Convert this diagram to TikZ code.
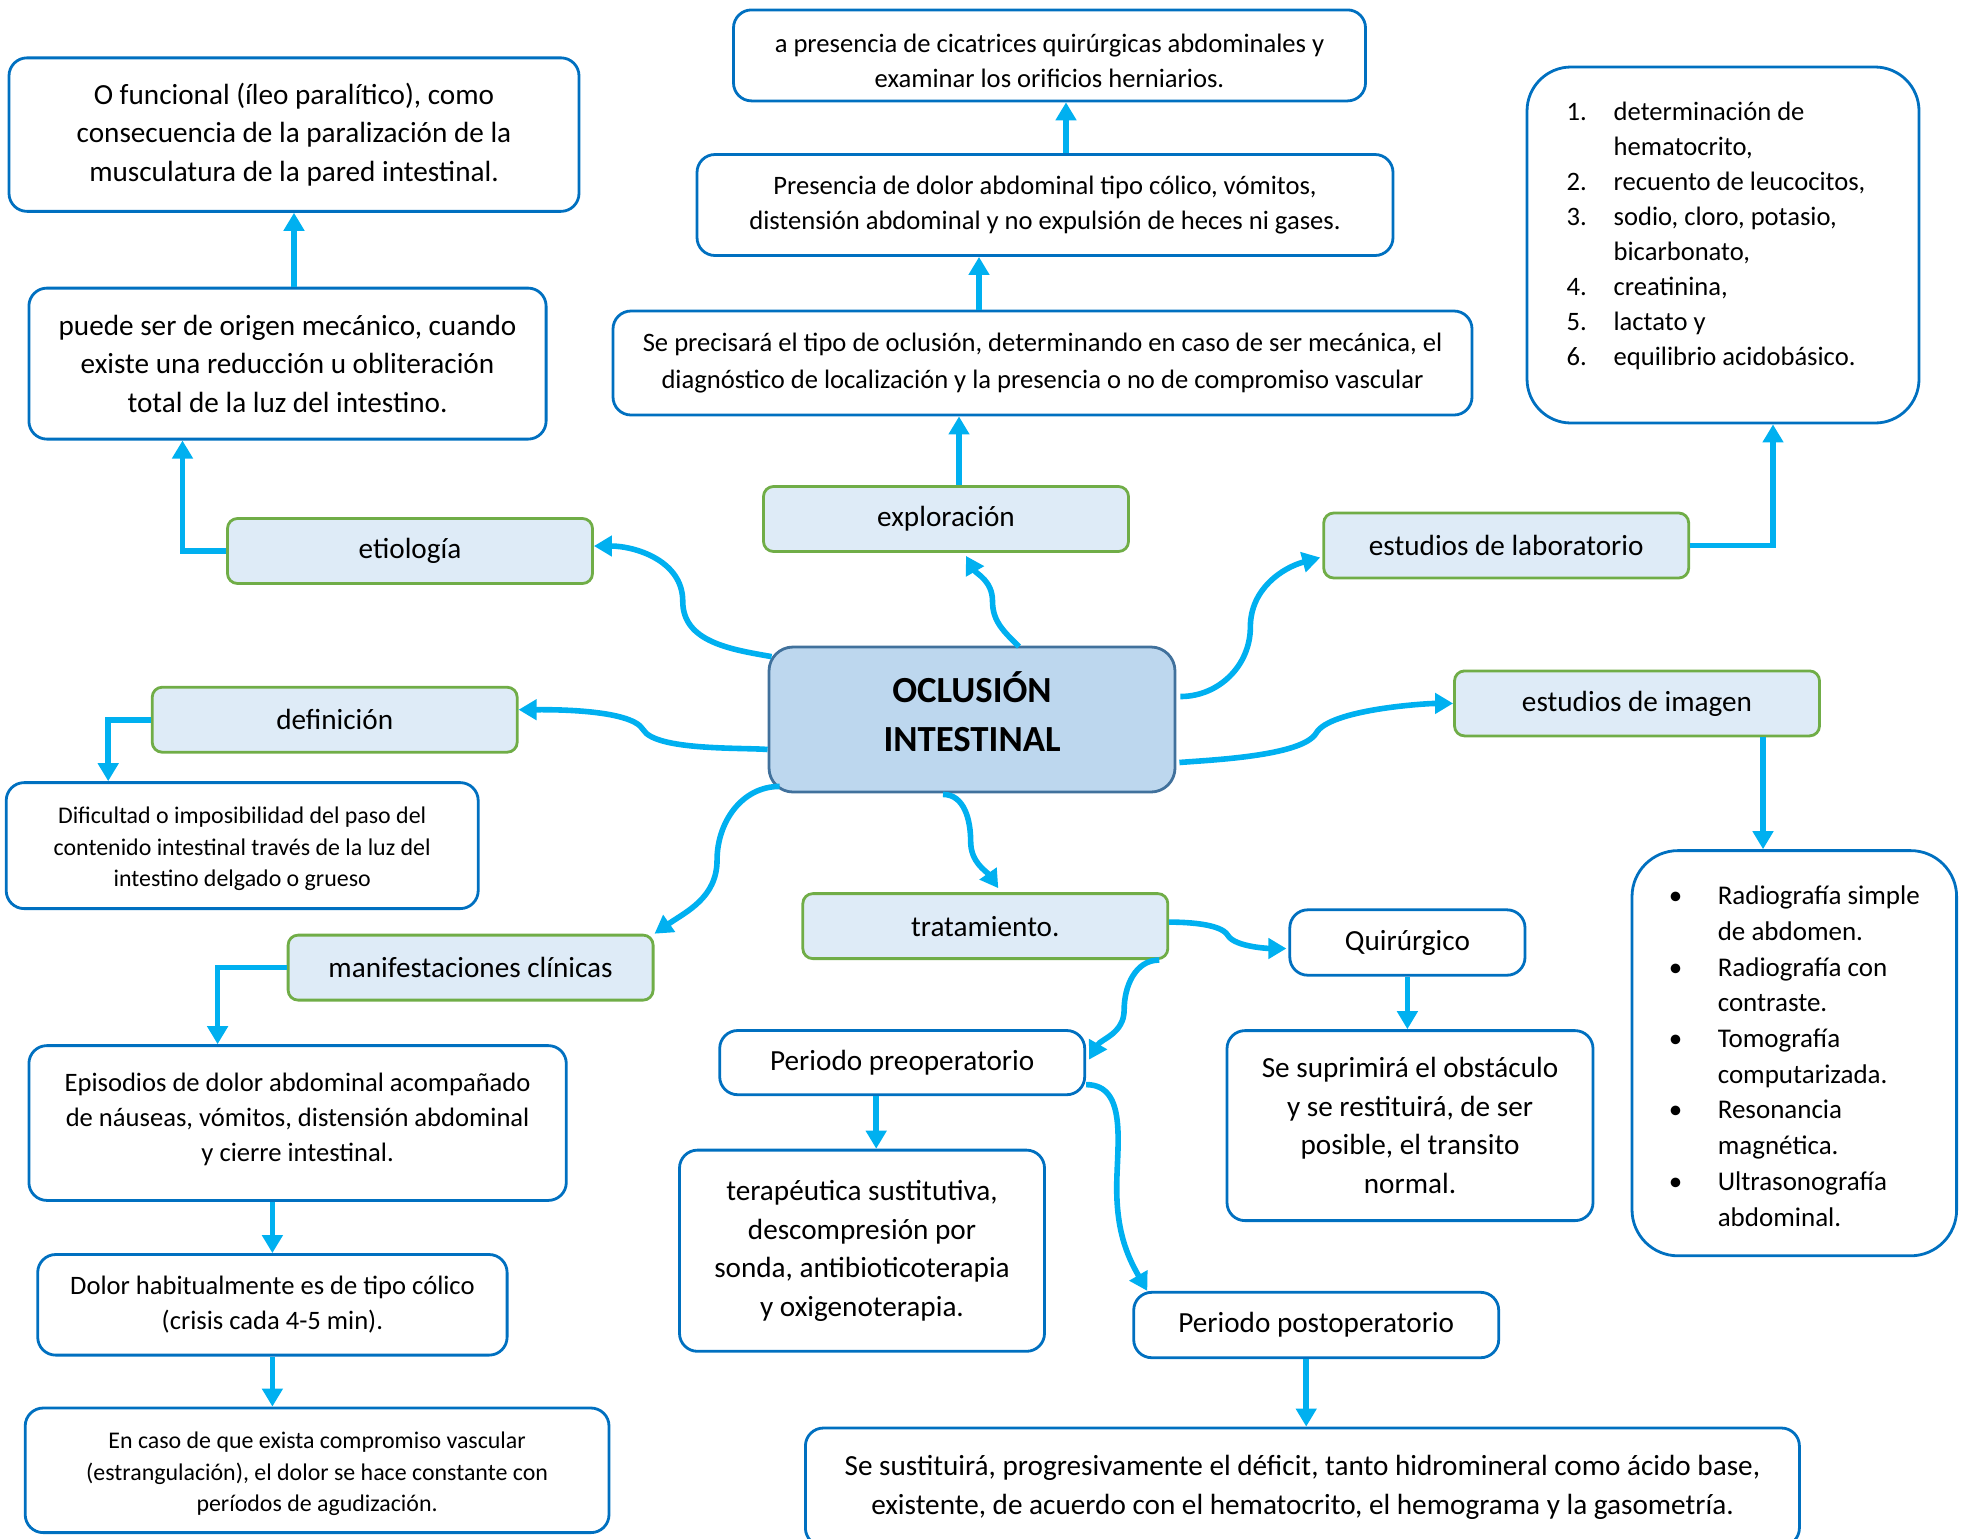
\documentclass[tikz,border=0pt]{standalone}
\usepackage{fontspec}
\setmainfont{Carlito}
\usepackage{xcolor}
\usetikzlibrary{arrows.meta,calc}

\definecolor{linkcyan}{HTML}{00B0F0}
\definecolor{boxblue}{HTML}{0070C0}
\definecolor{topicgreen}{HTML}{70AD47}
\definecolor{topicfill}{HTML}{DEEBF7}
\definecolor{centrefill}{HTML}{BDD7EE}
\definecolor{centredraw}{HTML}{41719C}

\begin{document}
\begin{tikzpicture}[
  x=0.5pt, y=-0.5pt,
  centre/.style={
    draw=centredraw, fill=centrefill, rounded corners=12pt,
    minimum width=203pt, minimum height=72.5pt, align=center,
    font=\fontsize{18.4}{24.5}\selectfont\bfseries, line width=1.4pt
  },
  topic/.style={
    draw=topicgreen, fill=topicfill, rounded corners=5pt,
    minimum width=182.5pt, minimum height=32.5pt,
    font=\fontsize{14.6}{17}\selectfont, line width=1.4pt
  },
  note/.style={
    draw=boxblue, fill=white, rounded corners=9pt,
    align=center, line width=1.4pt, inner sep=0pt
  },
  link/.style={
    -{Triangle[length=9pt,width=10pt]}, draw=linkcyan, line width=2.8pt
  },
  txtbig/.style={font=\fontsize{14.6}{19.3}\selectfont},
  txtmid/.style={font=\fontsize{13.3}{17.5}\selectfont},
  txtsmall/.style={font=\fontsize{11.95}{15.75}\selectfont}
]
\useasboundingbox (0,0) rectangle (1973,1538);

% Centre
\node[centre] (centre) at (972,719.5)
  {\begin{tabular}{@{}c@{}}OCLUSIÓN\\INTESTINAL\\[2.5pt]\end{tabular}};

% Main topics
\node[topic] (etiologia)       at (410,551)      {etiología};
\node[topic] (definicion)      at (334.7,719.7)  {definición};
\node[topic] (manifestaciones) at (470.6,967.6)  {manifestaciones clínicas};
\node[topic] (exploracion)     at (946,519)      {exploración};
\node[topic] (tratamiento)     at (985.3,926.1)  {tratamiento.};
\node[topic] (laboratorio)     at (1506.2,545.5) {estudios de laboratorio};
\node[topic] (imagen)          at (1637,703.4)   {estudios de imagen};

% Left side notes
\node[note, txtbig, minimum width=285pt, minimum height=76.75pt] (ofuncional) at (294,134.6)
  {O funcional (íleo paralítico), como\\consecuencia de la paralización de la\\musculatura de la pared intestinal.};
\node[note, txtbig, minimum width=258.6pt, minimum height=75.5pt] (puede) at (287.5,363.6)
  {puede ser de origen mecánico, cuando\\existe una reducción u obliteración\\total de la luz del intestino.};
\node[note, txtsmall, minimum width=236pt, minimum height=63pt] (dificultad) at (242.2,845.6)
  {\rule{0pt}{11.5pt}Dificultad o imposibilidad del paso del\\contenido intestinal través de la luz del\\intestino delgado o grueso};
\node[note, txtmid, minimum width=268.7pt, minimum height=77.4pt] (episodios) at (297.6,1123)
  {Episodios de dolor abdominal acompañado\\de náuseas, vómitos, distensión abdominal\\y cierre intestinal.\rule[-6pt]{0pt}{0pt}};
\node[note, txtmid, minimum width=234.7pt, minimum height=50.3pt] (dolor) at (272.4,1304.8)
  {Dolor habitualmente es de tipo cólico\\(crisis cada 4-5 min).};
\node[note, txtsmall, minimum width=291.9pt, minimum height=62.3pt] (encaso) at (317.1,1470.3)
  {\rule{0pt}{12pt}En caso de que exista compromiso vascular\\(estrangulación), el dolor se hace constante con\\períodos de agudización.};

% Exploration chain
\node[note, txtmid, minimum width=316pt, minimum height=45.5pt] (cicatrices) at (1049.5,55.4)
  {\rule{0pt}{15pt}a presencia de cicatrices quirúrgicas abdominales y\\examinar los orificios herniarios.};
\node[note, txtmid, minimum width=348pt, minimum height=50.5pt] (presencia) at (1045,205)
  {Presencia de dolor abdominal tipo cólico, vómitos,\\distensión abdominal y no expulsión de heces ni gases.};
\node[note, font=\fontsize{13.3}{18.25}\selectfont, minimum width=429.5pt, minimum height=52pt] (precisara) at (1042.5,363)
  {Se precisará el tipo de oclusión, determinando en caso de ser mecánica, el\\diagnóstico de localización y la presencia o no de compromiso vascular};

% Studies
\node[note, txtmid, rounded corners=22pt, minimum width=196pt, minimum height=178pt] (lablist) at (1723,245)
  {\begin{tabular}{@{}p{23.5pt}@{}l@{\hspace{7pt}}}
   1. & determinación de\\
      & hematocrito,\\
   2. & recuento de leucocitos,\\
   3. & sodio, cloro, potasio,\\
      & bicarbonato,\\
   4. & creatinina,\\
   5. & lactato y\\
   6. & equilibrio acidobásico.\\[9pt]
   \end{tabular}};
\node[note, font=\fontsize{13.5}{17.85}\selectfont, rounded corners=23pt, minimum width=162.3pt, minimum height=202.6pt] (imglist) at (1794.3,1053.2)
  {\begin{tabular}{@{}p{24.5pt}@{}l@{}}
   \rule{0pt}{17.5pt}\textbullet & Radiografía simple\\
               & de abdomen.\\
   \textbullet & Radiografía con\\
               & contraste.\\
   \textbullet & Tomografía\\
               & computarizada.\\
   \textbullet & Resonancia\\
               & magnética.\\
   \textbullet & Ultrasonografía\\
               & abdominal.
   \end{tabular}};

% Treatment
\node[note, font=\fontsize{14.6}{17}\selectfont, minimum width=117.6pt, minimum height=32.7pt] (quirurgico) at (1407.4,942.5) {Quirúrgico};
\node[note, txtbig, minimum width=183pt, minimum height=95pt] (suprimira) at (1410,1125.6)
  {Se suprimirá el obstáculo\\y se restituirá, de ser\\posible, el transito\\normal.};
\node[note, font=\fontsize{14.6}{17}\selectfont, minimum width=182.5pt, minimum height=32.1pt] (preop) at (902.2,1062.6) {Periodo preoperatorio};
\node[note, txtbig, minimum width=182.5pt, minimum height=100.6pt] (terapeutica) at (862,1250.7)
  {terapéutica sustitutiva,\\descompresión por\\sonda, antibioticoterapia\\y oxigenoterapia.};
\node[note, font=\fontsize{14.6}{17}\selectfont, minimum width=182.5pt, minimum height=32.7pt] (postop) at (1316.2,1325) {Periodo postoperatorio};
\node[note, font=\fontsize{14.6}{19.5}\selectfont, minimum width=497pt, minimum height=59pt] (sustituira) at (1302.4,1487)
  {Se sustituirá, progresivamente el déficit, tanto hidromineral como ácido base,\\existente, de acuerdo con el hematocrito, el hemograma y la gasometría.};

% Ends of the curved links
\coordinate (s-eti) at ($(centre.north west)+(4,11)$);
\coordinate (e-eti) at ($(etiologia.east)+(0,-5)$);
\coordinate (s-def) at ($(centre.west)+(0,30)$);
\coordinate (e-def) at ($(definicion.east)+(0,-10)$);
\coordinate (s-man) at ($(centre.south west)+(12,-7)$);
\coordinate (s-exp) at ($(centre.north)+(47,1)$);
\coordinate (e-exp) at ($(exploracion.south)+(20,3)$);
\coordinate (s-tra) at ($(centre.south)+(-29,1)$);
\coordinate (e-tra) at ($(tratamiento.north)+(13,-4)$);
\coordinate (s-lab) at ($(centre.east)+(4,-23)$);
\coordinate (e-lab) at ($(laboratorio.west)+(-2,12)$);
\coordinate (s-img) at ($(centre.east)+(3,43)$);
\coordinate (s-qui) at ($(tratamiento.east)+(0,-4)$);
\coordinate (e-qui) at ($(quirurgico.west)+(-2,6)$);
\coordinate (s-pre) at ($(tratamiento.south east)+(-10,0)$);
\coordinate (e-pre) at ($(preop.east)+(3,-3)$);
\coordinate (s-pos) at ($(preop.east)+(0,22)$);
\coordinate (e-pos) at ($(postop.north west)+(15,0)$);

% Curved links from the centre
\draw[link] (s-eti) to[out=170,in=-90] ($(s-eti)!0.5!(e-eti)$) to[out=90,in=0] (e-eti);
\draw[link] (s-def) to[out=175,in=-60,looseness=0.5] ($(s-def)!0.5!(e-def)$) to[out=120,in=0,looseness=0.5] (e-def);
\draw[link] (s-man) to[out=180,in=90] ($(s-man)!0.5!(manifestaciones.north east)$) to[out=-90,in=35] (manifestaciones.north east);
\draw[link] (s-exp) to[out=135,in=-90] ($(s-exp)!0.5!(e-exp)$) to[out=90,in=-60] (e-exp);
\draw[link] (s-tra) to[out=0,in=90] ($(s-tra)!0.5!(e-tra)$) to[out=-90,in=125] (e-tra);
\draw[link] (s-lab) to[out=0,in=-90] ($(s-lab)!0.5!(e-lab)$) to[out=90,in=195] (e-lab);
\draw[link] (s-img) to[out=5,in=-120,looseness=0.5] ($(s-img)!0.5!(imagen.west)$) to[out=60,in=180,looseness=0.5] (imagen.west);

% Treatment links
\draw[link] (s-qui) to[out=0,in=120,looseness=0.6] ($(s-qui)!0.5!(e-qui)$) to[out=-60,in=180,looseness=0.6] (e-qui);
\draw[link] (s-pre) to[out=180,in=90] ($(s-pre)!0.5!(e-pre)$) to[out=-90,in=60] (e-pre);
\draw[link] (s-pos) to[out=0,in=90] ($(s-pos)!0.5!(e-pos)$) to[out=-90,in=120] (e-pos);

% Elbow and straight links
\draw[link] (etiologia.west) -| ($(puede.south)+(-105,0)$);
\draw[link] (ofuncional.south |- puede.north) -- (ofuncional.south);
\draw[link] (definicion.west) -| ($(dificultad.north)+(-134,0)$);
\draw[link] (manifestaciones.west) -| ($(episodios.north)+(-80,0)$);
\draw[link] (dolor.north |- episodios.south) -- (dolor.north);
\draw[link] (dolor.south) -- (dolor.south |- encaso.north);

\coordinate (ex1) at ($(exploracion.north)+(13,0)$);
\coordinate (pr1) at ($(precisara.north)+(-63.5,0)$);
\coordinate (pe1) at ($(presencia.north)+(21,0)$);
\draw[link] (ex1) -- (ex1 |- precisara.south);
\draw[link] (pr1) -- (pr1 |- presencia.south);
\draw[link] (pe1) -- (pe1 |- cicatrices.south);

\draw[link] (laboratorio.east) -| ($(lablist.south)+(50,0)$);
\coordinate (im1) at ($(imagen.south)+(126,0)$);
\draw[link] (im1) -- (im1 |- imglist.north);

\draw[link] (quirurgico.south) -- (quirurgico.south |- suprimira.north);
\coordinate (op1) at ($(preop.south)+(-26,0)$);
\draw[link] (op1) -- (op1 |- terapeutica.north);
\coordinate (po1) at ($(postop.south)+(-10,0)$);
\draw[link] (po1) -- (po1 |- sustituira.north);

\end{tikzpicture}
\end{document}
